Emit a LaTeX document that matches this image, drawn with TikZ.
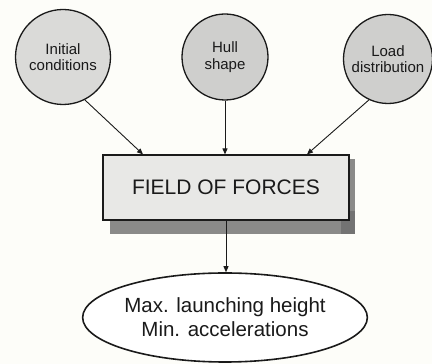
\documentclass[tikz,border=0pt]{standalone}
\usepackage{fontspec}
\setmainfont{Liberation Sans}
\usetikzlibrary{shapes.geometric, arrows.meta, positioning, calc}
\usepackage{xcolor}
\definecolor{cPaper}{HTML}{FDFDF9}
\definecolor{cInk}{HTML}{1A1A1A}
\definecolor{cInput}{HTML}{DADAD8}
\definecolor{cInputDark}{HTML}{CFCFCD}
\definecolor{cField}{HTML}{E8E8E6}
\definecolor{cShadow}{HTML}{6E6E6E}
\tikzset{
  inputnode/.style={
    draw=cInk, fill=#1, circle, line width=1.3pt,
    font=\fontsize{15}{16.5}\selectfont, text=cInk,
    align=center, inner sep=0pt,
  },
  inputnode/.default=cInput,
  fieldbox/.style={
    draw=cInk, fill=cField, rectangle, line width=1.2pt,
    minimum width=246pt, minimum height=65pt,
    font=\fontsize{21}{24}\selectfont, text=cInk,
  },
  resultnode/.style={
    draw=cInk, fill=white, ellipse, line width=1.6pt,
    minimum width=246pt, minimum height=89pt, inner sep=0pt,
    font=\fontsize{20.5}{24}\selectfont, text=cInk, align=center,
  },
  arw/.style={-{Triangle[length=6pt, width=5pt]}, line width=0.9pt, color=cInk},
}

\begin{document}
\begin{tikzpicture}[x=1pt, y=1pt]

  % Paper and bounding box
  \fill[cPaper] (0,0) rectangle (432,364);
  \useasboundingbox (0,0) rectangle (432,364);

  % Input parameters (top row)
  \node[inputnode, minimum size=95pt] (init) at (63,307)
    {Initial\\conditions};
  \node[inputnode=cInputDark, minimum size=86pt] (hull) at (225,307)
    {Hull\\shape};
  \node[inputnode=cInputDark, minimum size=89pt] (load) at (388,305)
    {Load\\distribution};

  % Field of forces with drop shadow
  \fill[cShadow, opacity=0.8] (110,130) rectangle (355,153);
  \fill[cShadow, opacity=0.8] (341,130) rectangle (355,205);
  \node[fieldbox] (field) at (226,176.5) {FIELD OF FORCES};

  % Result
  \node[resultnode] (result) at (225,46.5)
    {Max. launching height\\Min. accelerations};

  % Arrows into the field of forces
  \coordinate (inL) at ([xshift=-83pt]field.north);
  \coordinate (inR) at ([xshift=81pt]field.north);
  \draw[arw] (init.297) -- (inL);
  \draw[arw] (hull.south) -- (hull.south |- field.north);
  \draw[arw] (load.245) -- (inR);

  % Arrow to the result
  \draw[arw] (field.south) -- (field.south |- result.north);

\end{tikzpicture}
\end{document}
